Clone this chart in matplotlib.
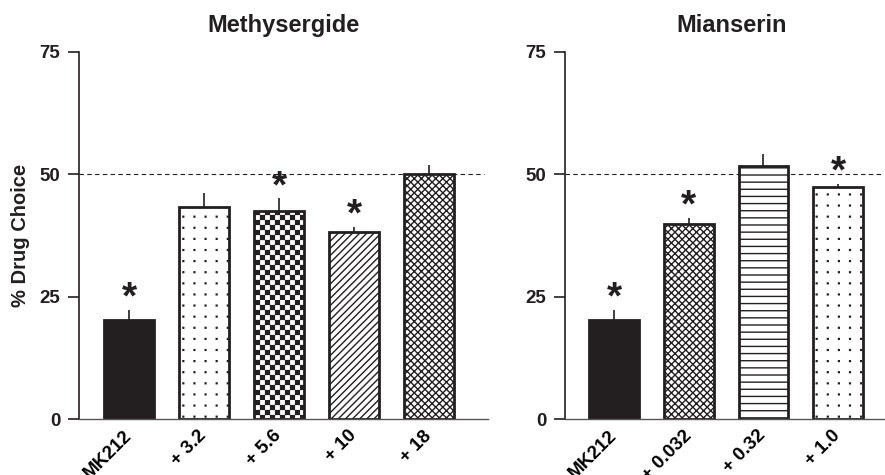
"""
plot.py
-------
Two-panel bar chart: % drug choice for MK212 alone and combined with
methysergide or mianserin doses. Bars carry their original print
patterns (dots, checks, diagonal lines, cross-hatch, rules).

Output: out.png
"""

import numpy as np
import matplotlib
matplotlib.use("Agg")
import matplotlib.pyplot as plt
import matplotlib.hatch as mhatch
import matplotlib.transforms as mtransforms
from matplotlib.path import Path

# -- Data ----------------------------------------------------------------------

METHY_LABELS = ["MK212", "+ 3.2", "+ 5.6", "+ 10", "+ 18"]
METHY_MEAN   = [20.2, 43.4, 42.6, 38.3, 50.0]
METHY_SEM    = [2.2, 2.9, 2.5, 0.9, 1.9]
METHY_SIG    = [True, False, True, True, False]
METHY_HATCH  = [None, ".", "*", "/", "x"]

MIAN_LABELS = ["MK212", "+ 0.032", "+ 0.32", "+ 1.0"]
MIAN_MEAN   = [20.2, 39.9, 51.8, 47.5]
MIAN_SEM    = [2.2, 1.2, 2.3, 0.5]
MIAN_SIG    = [True, True, False, True]
MIAN_HATCH  = [None, "x", "-", "."]

Y_TICKS   = [0, 25, 50, 75]
CHANCE    = 50
Y_LABEL   = "% Drug Choice"

# -- Style ---------------------------------------------------------------------

INK = "#231f20"

plt.rcParams["font.family"] = ["Liberation Sans", "DejaVu Sans"]
plt.rcParams["font.weight"] = "bold"
plt.rcParams["hatch.color"] = INK
plt.rcParams["hatch.linewidth"] = 1.0

# Hatch pitches (per hatch tile of one inch = 100 px at dpi 100)
LINE_PITCH  = 14
DOT_PITCH   = 9
CHECK_PITCH = 10


class PaperHatch(mhatch.HatchPatternBase):
    """Finer hatch set closer to the printed figure than the defaults."""

    def __init__(self, hatch, density):
        verts, codes = [], []

        def seg(p, q):
            verts.extend([p, q])
            codes.extend([Path.MOVETO, Path.LINETO])

        def square(cx, cy, h):
            verts.extend([(cx - h, cy - h), (cx + h, cy - h), (cx + h, cy + h),
                          (cx - h, cy + h), (cx - h, cy - h)])
            codes.extend([Path.MOVETO, Path.LINETO, Path.LINETO,
                          Path.LINETO, Path.CLOSEPOLY])

        hatch = hatch or ""
        if "-" in hatch:
            for k in range(LINE_PITCH):
                y = (k + 0.5) / LINE_PITCH
                seg((0, y), (1, y))
        if "/" in hatch or "x" in hatch:
            for k in range(-LINE_PITCH, LINE_PITCH + 1):
                s = k / LINE_PITCH
                seg((s, 0), (s + 1, 1))
        if "\\" in hatch or "x" in hatch:
            for k in range(-LINE_PITCH, LINE_PITCH + 1):
                s = k / LINE_PITCH
                seg((s, 1), (s + 1, 0))
        if "." in hatch:
            for i in range(DOT_PITCH):
                for j in range(DOT_PITCH):
                    square((i + 0.5) / DOT_PITCH, (j + 0.5) / DOT_PITCH, 0.004)
        if "*" in hatch:
            m = 2 * CHECK_PITCH
            for i in range(m):
                for j in range(m):
                    if (i + j) % 2 == 0:
                        square((i + 0.5) / m, (j + 0.5) / m, 0.5 / m - 0.006)

        self.verts = np.array(verts, dtype=float).reshape(-1, 2)
        self.codes = np.array(codes, dtype=Path.code_type)
        self.num_vertices = len(self.verts)

    def set_vertices_and_codes(self, vertices, codes):
        vertices[:] = self.verts
        codes[:] = self.codes


mhatch._hatch_types = [PaperHatch]

# -- Figure --------------------------------------------------------------------

W, H = 885, 475
fig = plt.figure(figsize=(W / 100, H / 100), dpi=100)

# axes boxes in pixels: (left, bottom, width, height) from bottom-left
ax_l = fig.add_axes([79 / W, 55.7 / H, 409 / W, 367.3 / H])
ax_r = fig.add_axes([565 / W, 55.7 / H, 320 / W, 367.3 / H])


def draw_panel(ax, labels, means, sems, sig, hatches, title, xlim, title_x):
    x = np.arange(len(labels))
    fills = [INK if h is None else "white" for h in hatches]

    ax.axhline(CHANCE, xmax=0.99, color=INK, lw=0.8, ls=(0, (4, 3)), zorder=0.5)

    ax.errorbar(x, means, yerr=[np.zeros(len(x)), sems], fmt="none",
                ecolor=INK, elinewidth=1.2, capsize=0, zorder=1)
    bars = ax.bar(x, means, width=0.667, color=fills, edgecolor=INK,
                  linewidth=2.0, zorder=2)
    for bar, h in zip(bars, hatches):
        if h:
            bar.set_hatch(h)

    # significance stars above the error bars
    for xi, m, s, star in zip(x, means, sems, sig):
        if star:
            ax.annotate("*", xy=(xi, m + s), xytext=(0, 1),
                        textcoords="offset points", ha="center",
                        va="baseline", fontsize=28, fontweight="bold",
                        color=INK, annotation_clip=False)

    ax.set_xlim(*xlim)
    ax.set_ylim(0, 75)
    ax.set_yticks(Y_TICKS)
    ax.set_xticks(x)
    ax.set_xticklabels(labels, rotation=45, ha="right", va="center",
                       rotation_mode="anchor", fontsize=13.5)
    shift = mtransforms.ScaledTranslation(11 / 72, 0, fig.dpi_scale_trans)
    for lab in ax.get_xticklabels():
        lab.set_transform(lab.get_transform() + shift)

    ax.tick_params(axis="x", length=0, pad=10)
    ax.tick_params(axis="y", length=8, width=1.2, pad=5.5, labelsize=13.5,
                   colors=INK)

    for side in ["top", "right"]:
        ax.spines[side].set_visible(False)
    ax.spines["left"].set_linewidth(1.2)
    ax.spines["left"].set_color(INK)
    ax.spines["bottom"].set_linewidth(1.0)
    ax.spines["bottom"].set_color("#555555")

    ax.annotate(title, xy=(title_x, 1), xycoords="axes fraction",
                xytext=(0, 14.5), textcoords="offset points",
                ha="center", va="baseline", fontsize=17, fontweight="bold",
                color=INK)


draw_panel(ax_l, METHY_LABELS, METHY_MEAN, METHY_SEM, METHY_SIG, METHY_HATCH,
           "Methysergide", (-0.667, 4.787), 0.5)
draw_panel(ax_r, MIAN_LABELS, MIAN_MEAN, MIAN_SEM, MIAN_SIG, MIAN_HATCH,
           "Mianserin", (-0.66, 3.63), 0.522)

ax_l.set_ylabel(Y_LABEL, fontsize=14.5, fontweight="bold", color=INK)
ax_l.yaxis.set_label_coords(-0.12, 0.5)

fig.savefig("out.png", dpi=100)
print("Plot saved: out.png")
